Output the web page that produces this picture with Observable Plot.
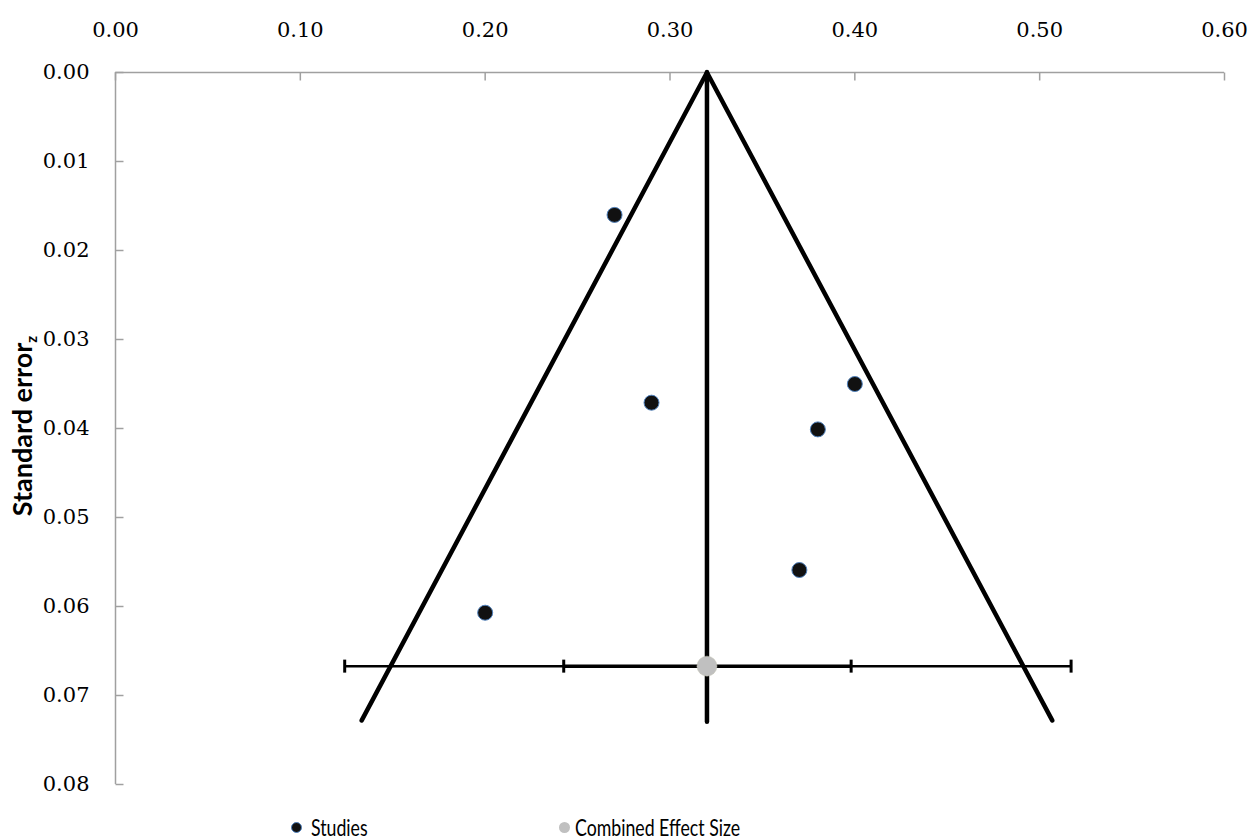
<!DOCTYPE html>
<html>
<head>
<meta charset="utf-8">
<script src="https://cdn.jsdelivr.net/npm/d3@7"></script>
<script src="https://cdn.jsdelivr.net/npm/@observablehq/plot@0.6"></script>
<style>
  html, body { margin: 0; padding: 0; background: #fff; }
  #wrap { position: relative; width: 1253px; height: 839px; }
  #legend { position: absolute; left: 0; top: 800px; width: 1253px; height: 39px;
    font-family: Lato, "Open Sans", sans-serif; font-size: 23px; color: #000; }
  .item { position: absolute; top: 16px; display: flex; align-items: center; line-height: 1; }
  .sw { width: 11px; height: 11px; border-radius: 50%; box-sizing: border-box; flex: none; }
  .lab { display: inline-block; transform: scaleX(0.77); transform-origin: 0 50%; white-space: nowrap; }
</style>
</head>
<body>
<div id="wrap"><div id="chart"></div><div id="legend"></div></div>
<script>
// Study effect sizes (Fisher z) and standard errors
const studyEffect = [0.270, 0.290, 0.400, 0.380, 0.370, 0.200];
const studySE     = [0.0160, 0.0371, 0.0350, 0.0401, 0.0559, 0.0607];
// Combined effect size
const combinedEffect = [0.320];
const combinedSE = [0.0667];
// Funnel boundaries
const funnelX = [0.1332, 0.320, 0.5068];
const funnelY = [0.0728, 0.000, 0.0728];
const centerLineY = [0.000, 0.0730];
// Confidence intervals around combined effect
const ciOuter = [0.124, 0.517];
const ciInner = [0.2425, 0.398];
// Axis ticks
const xTicks = [0, 0.1, 0.2, 0.3, 0.4, 0.5, 0.6];
const yTicks = [0, 0.01, 0.02, 0.03, 0.04, 0.05, 0.06, 0.07, 0.08];
const legendLabels = ["Studies", "Combined Effect Size"];
const legendColors = ["#111111", "#c0c0c0"];

const studies = studyEffect.map((x, i) => ({x, y: studySE[i]}));
const funnel = funnelX.map((x, i) => ({x, y: funnelY[i]}));

const tickDown = {draw(ctx, size) { const r = Math.sqrt(size / Math.PI); ctx.moveTo(0, 0); ctx.lineTo(0, r); }};
const tickRight = {draw(ctx, size) { const r = Math.sqrt(size / Math.PI); ctx.moveTo(0, 0); ctx.lineTo(r, 0); }};
const vbar = {draw(ctx, size) { const r = Math.sqrt(size / Math.PI); ctx.moveTo(0, -r); ctx.lineTo(0, r); }};

const axisColor = "#a0a0a0";
const tickFont = "'DejaVu Serif', 'Liberation Serif', serif";
const fmt = d3.format(".2f");

const plot = Plot.plot({
  width: 1253,
  height: 800,
  marginTop: 72,
  marginLeft: 115,
  marginRight: 29,
  marginBottom: 16,
  style: {fontFamily: tickFont, fontSize: "21px", color: "#000", background: "#fff"},
  x: {domain: [0, 0.6], label: null},
  y: {domain: [0, 0.08], reverse: true, label: null},
  marks: [
    Plot.ruleY([0], {stroke: axisColor, strokeWidth: 1.5}),
    Plot.ruleX([0], {stroke: axisColor, strokeWidth: 1.5}),
    Plot.dot(xTicks, {x: d => d, frameAnchor: "top", symbol: tickDown, r: 8, stroke: axisColor, strokeWidth: 1.5, fill: "none"}),
    Plot.dot(yTicks, {y: d => d, frameAnchor: "left", symbol: tickRight, r: 8, stroke: axisColor, strokeWidth: 1.5, fill: "none"}),
    Plot.axisX(xTicks, {anchor: "top", tickSize: 0, tickPadding: 36, tickFormat: fmt, fontSize: 21, fontFamily: tickFont, label: null, stroke: "#000", strokeWidth: 0.5}),
    Plot.axisY(yTicks, {anchor: "left", tickSize: 0, tickPadding: 26, tickFormat: fmt, fontSize: 21, fontFamily: tickFont, label: null, stroke: "#000", strokeWidth: 0.5}),
    // CI bars
    Plot.ruleY(combinedSE, {x1: ciOuter[0], x2: ciOuter[1], y: d => d, stroke: "#000", strokeWidth: 2.5}),
    Plot.ruleY(combinedSE, {x1: ciInner[0], x2: ciInner[1], y: d => d, stroke: "#000", strokeWidth: 3.5}),
    Plot.dot(ciOuter.map(x => ({x, y: combinedSE[0]})), {x: "x", y: "y", symbol: vbar, r: 6.5, stroke: "#000", strokeWidth: 3, fill: "none"}),
    Plot.dot(ciInner.map(x => ({x, y: combinedSE[0]})), {x: "x", y: "y", symbol: vbar, r: 6.5, stroke: "#000", strokeWidth: 3, fill: "none"}),
    // Funnel
    Plot.line(funnel, {x: "x", y: "y", stroke: "#000", strokeWidth: 4.5, strokeLinecap: "round", strokeLinejoin: "miter"}),
    Plot.ruleX(combinedEffect, {x: d => d, y1: centerLineY[0], y2: centerLineY[1], stroke: "#000", strokeWidth: 4.5, strokeLinecap: "round"}),
    // Points
    Plot.dot(studies, {x: "x", y: "y", r: 7.5, fill: "#111111", stroke: "#4f81bd", strokeWidth: 1}),
    Plot.dot(combinedEffect.map((x, i) => ({x, y: combinedSE[i]})), {x: "x", y: "y", r: 10, fill: "#c0c0c0", stroke: "#c8c8b8", strokeWidth: 0.5})
  ]
});
document.getElementById("chart").appendChild(plot);

// Y axis title with subscript
const svg = d3.select(plot);
const t = svg.append("text")
  .attr("transform", "translate(32,426) rotate(-90)")
  .attr("text-anchor", "middle")
  .attr("font-family", "Lato, 'Open Sans', sans-serif")
  .attr("font-weight", "bold")
  .attr("font-size", 27)
  .attr("fill", "#000");
t.append("tspan").text("Standard error");
t.append("tspan").attr("font-size", 15).attr("dy", 5).text("z");

// Legend
const legend = d3.select("#legend");
const lefts = [291, 559];
const gaps = [9, 5];
legendLabels.forEach((lab, i) => {
  const it = legend.append("div").attr("class", "item").style("left", lefts[i] + "px");
  it.append("div").attr("class", "sw").style("background", legendColors[i])
    .style("margin-right", gaps[i] + "px")
    .style("border", i === 0 ? "1px solid #4f81bd" : "none");
  it.append("span").attr("class", "lab").text(lab);
});
</script>
</body>
</html>
